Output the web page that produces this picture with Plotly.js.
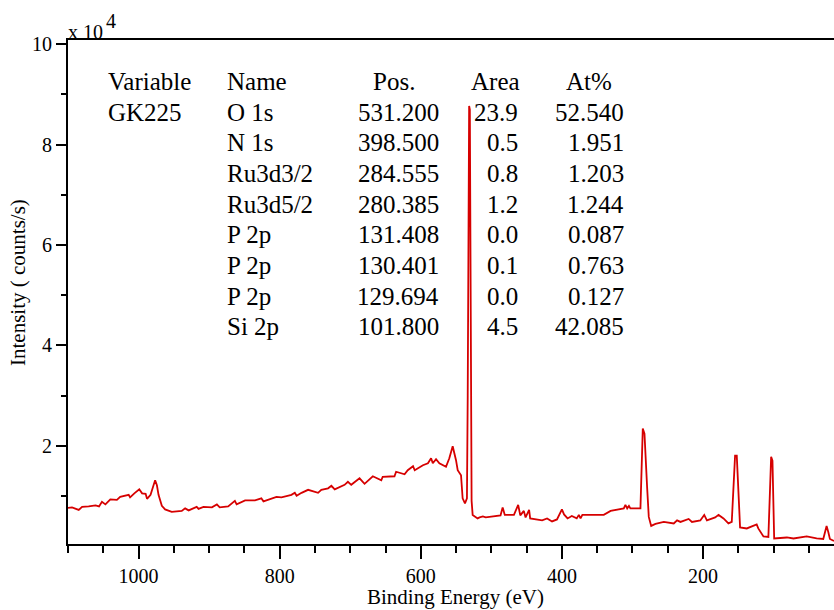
<!DOCTYPE html>
<html>
<head>
<meta charset="utf-8">
<script src="https://cdn.plot.ly/plotly-3.0.1.min.js"></script>
<style>html,body{margin:0;padding:0;background:#fff;}#chart{width:834px;height:610px;}</style>
</head>
<body>
<div id="chart"></div>
<script>
// Binding energy (eV) and intensity (x10^4 counts/s)
const energy = [1100,1094.3,1084.8,1080,1070.7,1061,1056,1051.9,1047,1040,1030.7,1026,1014,1012,1006,999,995,990,988,983,979,976.5,974,971.7,967,962.4,953,938.8,934,929,917.6,915,908,896,889,885,873,863.5,861,852,849,835,826,823,816,804.5,797.5,783.3,778.6,776,769,759.7,745.6,741,731.4,726.7,722,708,703.3,698.6,686.8,679.7,668,656,654,637.3,635,623,618.5,611,608.6,601.6,597,589.9,585.4,583,578.4,573.7,564.3,559.6,554.8,550.1,547.7,543,540.7,537.4,534.6,533.5,532.5,531.5,530.5,529.8,529,528,526.5,519.5,516.7,512,508,496,487,484,481,468,462,459,454,451.5,446.5,445,435,428,421,414,407,400,397,392,386,379,376,373.6,371,359.6,340.7,331,319.5,312.3,310,307.5,305,303,288.7,286,285.4,283,281.6,279.3,276.9,273.5,267.4,255.6,241.5,236.8,232,220.4,215.7,203.9,198.3,194.5,182.8,178,171,164,159.3,156.1,154.6,152.2,149.9,147.5,138,131,124,121.7,114.4,107.4,105,103.5,101.6,100.6,99.2,81.2,71.8,53.1,39,29.6,24.9,22.5,20.2,14.4];
const intensity = [0.76,0.77,0.72,0.78,0.79,0.81,0.79,0.88,0.83,0.93,0.92,0.98,1.02,0.97,1.05,1.13,1.05,1.04,0.94,1.02,1.20,1.31,1.21,1.02,0.80,0.73,0.68,0.70,0.75,0.71,0.78,0.74,0.78,0.77,0.83,0.77,0.79,0.90,0.83,0.88,0.91,0.91,0.95,0.89,0.92,0.98,0.97,1.02,1.06,1.00,1.06,1.12,1.06,1.12,1.15,1.20,1.13,1.22,1.28,1.22,1.35,1.24,1.39,1.31,1.38,1.39,1.48,1.43,1.51,1.59,1.51,1.58,1.61,1.65,1.75,1.65,1.73,1.65,1.58,1.75,1.99,1.71,1.51,1.41,0.95,0.85,0.95,3.0,7.5,8.77,8.7,6.0,2.5,0.9,0.62,0.55,0.57,0.59,0.57,0.59,0.61,0.77,0.62,0.62,0.82,0.61,0.70,0.57,0.72,0.55,0.53,0.51,0.55,0.49,0.53,0.73,0.63,0.55,0.60,0.55,0.62,0.55,0.62,0.62,0.62,0.70,0.73,0.75,0.82,0.75,0.80,0.75,0.75,1.91,2.34,2.24,1.71,1.18,0.58,0.40,0.44,0.48,0.45,0.51,0.48,0.54,0.48,0.51,0.62,0.51,0.57,0.62,0.55,0.45,0.48,1.58,1.80,1.80,1.12,0.37,0.35,0.39,0.43,0.35,0.19,0.18,1.18,1.78,1.70,0.72,0.15,0.17,0.15,0.19,0.15,0.14,0.40,0.28,0.14,0.10];

// Quantification table
const tableHeaders = ["Variable","Name","Pos.","Area","At%"];
const sampleName = "GK225";
const peakNames = ["O 1s","N 1s","Ru3d3/2","Ru3d5/2","P 2p","P 2p","P 2p","Si 2p"];
const peakPos = ["531.200","398.500","284.555","280.385","131.408","130.401","129.694","101.800"];
const peakArea = ["23.9","0.5","0.8","1.2","0.0","0.1","0.0","4.5"];
const peakAt = ["52.540","1.951","1.203","1.244","0.087","0.763","0.127","42.085"];

const xTickVals = [1000,800,600,400,200];
const yTickVals = [2,4,6,8,10];

const FONT = "Liberation Serif, Times New Roman, serif";
const L = 68, R = 834, T = 40, B = 544;
const px = x => (x - L) / (R - L);
const py = y => (B - y) / (B - T);

const ann = [];
function txt(text, x, y, anchor, size) {
  ann.push({text: text, xref: 'paper', yref: 'paper', x: px(x), y: py(y),
    xanchor: anchor, yanchor: 'middle', showarrow: false,
    font: {family: FONT, size: size || 25, color: '#000'}});
}
const rowY0 = 112, rowDy = 30.7, headY = 81;
txt(tableHeaders[0], 106, headY, 'left');
txt(tableHeaders[1], 225, headY, 'left');
txt(tableHeaders[2], 371, headY, 'left');
txt(tableHeaders[3], 469, headY, 'left');
txt(tableHeaders[4], 564, headY, 'left');
txt(sampleName, 106, rowY0, 'left');
peakNames.forEach((n, i) => {
  const y = rowY0 + i * rowDy;
  txt(n, 225, y, 'left');
  txt(peakPos[i], 441, y, 'right');
  txt(peakArea[i], 520, y, 'right');
  txt(peakAt[i], 626, y, 'right');
});
// exponent label
txt("x 10", 66, 32, 'left', 20);
txt("4", 104, 21, 'left', 20);
// axis titles
txt("Binding Energy (eV)", 455, 597, 'center', 21);
ann.push({text: "Intensity ( counts/s)", xref: 'paper', yref: 'paper', x: px(18), y: py(283),
  xanchor: 'center', yanchor: 'middle', textangle: -90, showarrow: false,
  font: {family: FONT, size: 21, color: '#000'}});

const trace = {x: energy, y: intensity, type: 'scatter', mode: 'lines',
  line: {color: 'rgb(214,0,0)', width: 1.8}, hoverinfo: 'skip'};

const layout = {
  width: 834, height: 610,
  margin: {l: L, r: 834 - R, t: T, b: 610 - B, pad: 0},
  paper_bgcolor: '#fff', plot_bgcolor: '#fff',
  showlegend: false,
  xaxis: {range: [1100, 14.4], tickmode: 'array', tickvals: xTickVals, ticktext: xTickVals.map(String),
    ticks: 'outside', ticklen: 13, tickwidth: 2, tickcolor: '#000',
    showline: true, linewidth: 2, linecolor: '#000', mirror: true,
    showgrid: false, zeroline: false,
    minor: {dtick: 50, tick0: 0, ticks: 'outside', ticklen: 7, tickwidth: 2, tickcolor: '#000', showgrid: false},
    tickfont: {family: FONT, size: 20, color: '#000'}},
  yaxis: {range: [0.04, 10.086], tickmode: 'array', tickvals: yTickVals, ticktext: yTickVals.map(String),
    ticks: 'outside', ticklen: 10, tickwidth: 2, tickcolor: '#000',
    showline: true, linewidth: 2, linecolor: '#000',
    showgrid: false, zeroline: false,
    minor: {dtick: 1, tick0: 0, ticks: 'outside', ticklen: 5, tickwidth: 2, tickcolor: '#000', showgrid: false},
    tickfont: {family: FONT, size: 20, color: '#000'}},
  annotations: ann
};
Plotly.newPlot('chart', [trace], layout, {displayModeBar: false, staticPlot: true});
</script>
</body>
</html>
